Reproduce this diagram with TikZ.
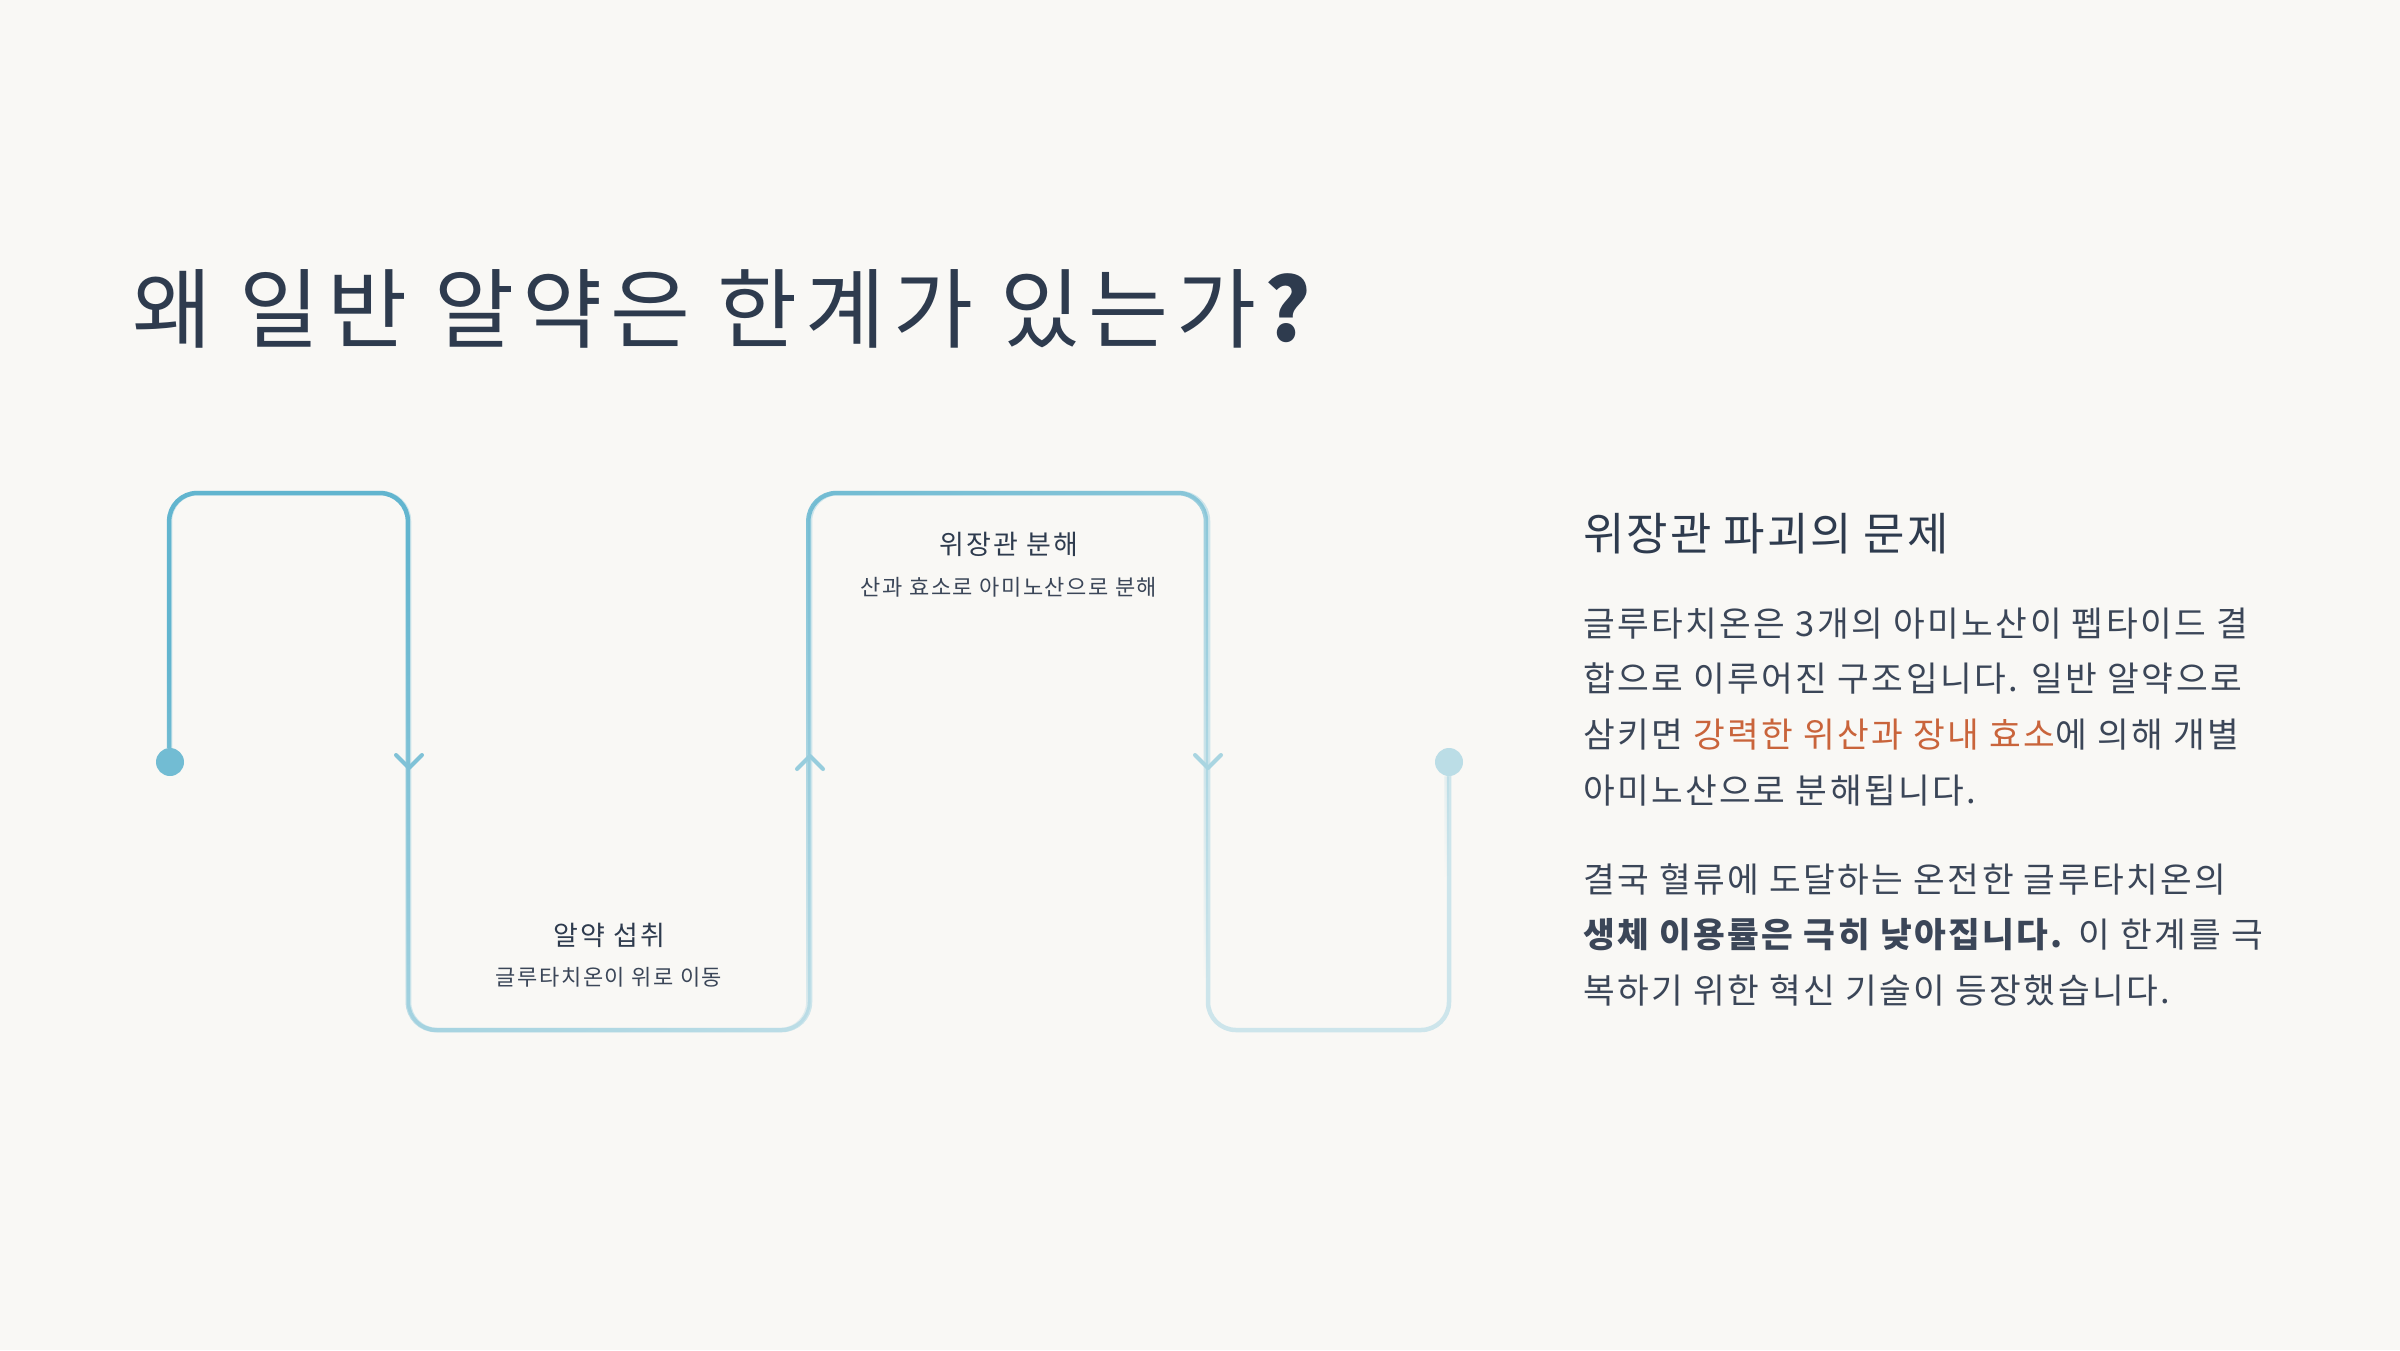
\documentclass[tikz,border=0pt]{standalone}
\usepackage{xcolor}
\usepackage{fontspec}
\setmainfont{Noto Sans CJK KR}[LetterSpace=7]
\usepackage{tikz}
\usetikzlibrary{fadings,positioning}
\definecolor{bgc}{HTML}{F9F8F5}
\definecolor{inkc}{HTML}{2E3B4E}
\definecolor{textc}{HTML}{3B4658}
\definecolor{hotc}{HTML}{C9643B}
\definecolor{flowdark}{HTML}{62B5CF}
\definecolor{flowlight}{HTML}{CDE5EB}

\tikzfading[name=flowfade,
  top color=transparent!0, bottom color=transparent!100, shading angle=45]

\begin{document}
\begin{tikzpicture}[
    x=1pt, y=-1pt,
    flow/.style={line width=4.5pt, rounded corners=28pt},
    chev/.style={line width=4pt, line cap=round, line join=round},
    dotnode/.style={circle, inner sep=0pt, minimum size=28pt},
    stagehead/.style={anchor=base, inner sep=0pt, text=inkc,
      font=\fontsize{27}{32}\selectfont\addfontfeatures{LetterSpace=8}},
    stagesub/.style={anchor=base, inner sep=0pt, text=textc,
      font=\fontsize{22}{26}\selectfont},
    body/.style={anchor=base west, inner sep=0pt, text=textc,
      font=\fontsize{34.5}{40}\selectfont}
  ]

  % --- canvas
  \fill[bgc] (0,0) rectangle (2400,1350);
  \useasboundingbox (0,0) rectangle (2400,1350);

  % --- title
  \node[anchor=base west, inner sep=0pt, text=inkc,
    font=\fontsize{87}{100}\selectfont\addfontfeatures{LetterSpace=9}]
    (title) at (132,341) {왜 일반 알약은 한계가 있는가\textbf{?}};

  % --- flow path
  \node[dotnode, fill=flowlight!15!flowdark] (src) at (170,762) {};
  \node[dotnode, fill=flowlight!83!flowdark] (dst) at (1449,762) {};
  \coordinate (k1) at (170,493);
  \coordinate (k2) at (409,493);
  \coordinate (k3) at (409,1030);
  \coordinate (k4) at (810,1030);
  \coordinate (k5) at (810,493);
  \coordinate (k6) at (1208,493);
  \coordinate (k7) at (1208,1030);
  \coordinate (k8) at (1449,1030);

  \draw[flow, flowlight] (src) -- (k1) -- (k2) -- (k3) -- (k4) -- (k5)
    -- (k6) -- (k7) -- (k8) -- (dst);
  \draw[flow, flowdark, path fading=flowfade] (src) -- (k1) -- (k2) -- (k3)
    -- (k4) -- (k5) -- (k6) -- (k7) -- (k8) -- (dst);

  % --- direction marks
  \draw[chev, flowlight!28!flowdark] (396,755) -- (409,768) -- (422,755);
  \draw[chev, flowlight!50!flowdark] (797,769) -- (810,756) -- (823,769);
  \draw[chev, flowlight!66!flowdark] (1195,755) -- (1208,768) -- (1221,755);

  % --- stage labels
  \node[stagehead] (intake) at (609,945) {알약 섭취};
  \node[stagesub] (intakesub) at (609,985) {글루타치온이 위로 이동};
  \node[stagehead] (digest) at (1009,554) {위장관 분해};
  \node[stagesub] (digestsub) at (1009,595) {산과 효소로 아미노산으로 분해};

  % --- explanation
  \node[anchor=base west, inner sep=0pt, text=inkc,
    font=\fontsize{45}{52}\selectfont\addfontfeatures{LetterSpace=4.5}]
    (head) at (1583,550) {위장관 파괴의 문제};
  \node[body] (p1) at (1583,636) {글루타치온은 3개의 아미노산이 펩타이드 결};
  \node[body] (p2) at (1583,691.7) {합으로 이루어진 구조입니다. 일반 알약으로};
  \node[body] (p3) at (1583,747.4)
    {삼키면 \textcolor{hotc}{강력한 위산과 장내 효소}에 의해 개별};
  \node[body] (p4) at (1583,803) {아미노산으로 분해됩니다.};
  \node[body] (q1) at (1583,892) {결국 혈류에 도달하는 온전한 글루타치온의};
  \node[body] (q2) at (1583,947.5)
    {\textbf{생체 이용률은 극히 낮아집니다.} 이 한계를 극};
  \node[body] (q3) at (1583,1003) {복하기 위한 혁신 기술이 등장했습니다.};

\end{tikzpicture}
\end{document}
